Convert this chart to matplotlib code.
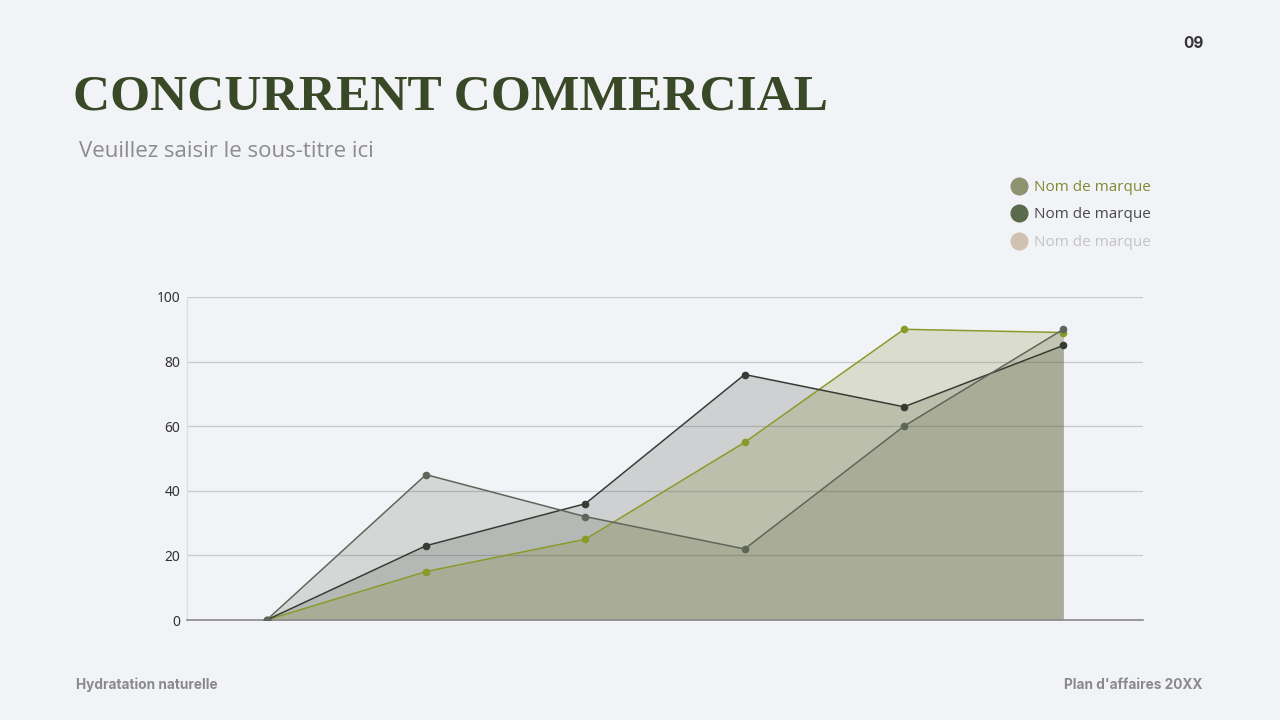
import matplotlib
matplotlib.use("Agg")
import matplotlib.pyplot as plt
from matplotlib.lines import Line2D

# ---- data ----
categories = ["Cat 1", "Cat 2", "Cat 3", "Cat 4", "Cat 5", "Cat 6"]
series_names = ["Nom de marque", "Nom de marque", "Nom de marque"]
series_a = [0, 15, 25, 55, 90, 89]   # olive
series_b = [0, 23, 36, 76, 66, 85]   # dark
series_c = [0, 45, 32, 22, 60, 90]   # grey-green
y_ticks = [0, 20, 40, 60, 80, 100]

title = "CONCURRENT COMMERCIAL"
subtitle = "Veuillez saisir le sous-titre ici"
footer_left = "Hydratation naturelle"
footer_right = "Plan d'affaires 20XX"
page_no = "09"

BG = "#f1f3f7"
fig = plt.figure(figsize=(12.8, 7.2), dpi=100, facecolor=BG)

ax = fig.add_axes([187/1280, 1-620/720, (1143-187)/1280, (620-297)/720])
ax.set_facecolor("none")
x = list(range(len(categories)))

line_cols = ["#8a9a2a", "#363c34", "#5d6659"]
fill_cols = ["#6e6e00", "#25281a", "#28371e"]
fill_alpha = [0.17, 0.17, 0.15]
data = [series_a, series_b, series_c]
for i in [2, 1, 0]:
    ax.fill_between(x, 0, data[i], color=fill_cols[i], alpha=fill_alpha[i], linewidth=0, zorder=2)
for i in [0, 1, 2]:
    ax.plot(x, data[i], color=line_cols[i], lw=1.1, marker="o", ms=4.5, zorder=3)

ax.set_xlim(-0.5, len(categories) - 0.5)
ax.set_ylim(0, 100)
ax.set_yticks(y_ticks)
ax.set_xticks([])
ax.grid(axis="y", color="#c9cacf", lw=0.9, zorder=0)
ax.set_axisbelow(True)
for s in ["top", "right"]:
    ax.spines[s].set_visible(False)
ax.spines["left"].set_color("#dcdde1")
ax.spines["left"].set_linewidth(0.9)
ax.spines["bottom"].set_color("#8a8a8e")
ax.spines["bottom"].set_linewidth(1.2)
ax.tick_params(axis="y", length=0, pad=5, labelsize=10, labelcolor="#333333")
for lab in ax.get_yticklabels():
    lab.set_fontfamily("Noto Sans")

# ---- texts ----
fig.text(73/1280, 1-110/720, title, fontsize=37, fontfamily="Liberation Serif",
         fontweight="bold", color="#394827", va="baseline", ha="left")
fig.text(79/1280, 1-157/720, subtitle, fontsize=16, fontfamily="Open Sans",
         color="#8c8c8c", va="baseline", ha="left")
fig.text(76/1280, 1-685/720, footer_left, fontsize=9.8, fontfamily="Inter",
         fontweight="bold", color="#8a8a8a", va="center", ha="left")
fig.text(1202/1280, 1-685/720, footer_right, fontsize=9.8, fontfamily="Inter",
         fontweight="bold", color="#8a8a8a", va="center", ha="right")
fig.text(1204/1280, 1-43/720, page_no, fontsize=11, fontfamily="Inter",
         fontweight="bold", color="#333333", va="center", ha="right")

# ---- legend ----
leg_dot = ["#8f9270", "#5a6a4a", "#cfc2b1"]
leg_txt = ["#7f8c33", "#4a4a4a", "#c4c4c4"]
leg_y = [186, 213, 241]
for name, dc, tc, yy in zip(series_names, leg_dot, leg_txt, leg_y):
    fig.add_artist(Line2D([1019/1280], [1-yy/720], marker="o", ms=12, color=dc,
                          linestyle="none", transform=fig.transFigure))
    fig.text(1034/1280, 1-(yy+1.5)/720, name, fontsize=11, fontfamily="Open Sans",
             color=tc, va="center", ha="left")

fig.savefig("out.png", dpi=100, facecolor=BG)
